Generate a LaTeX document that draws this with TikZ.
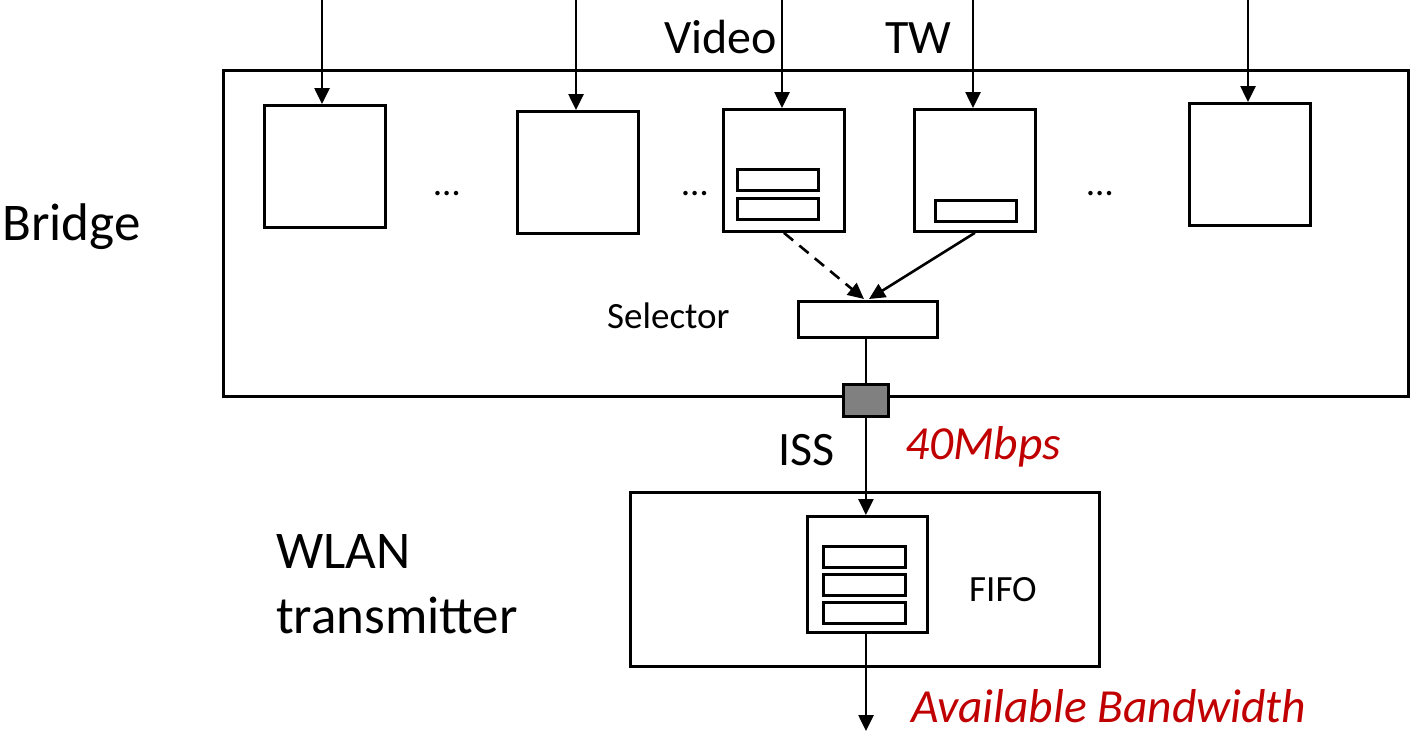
\documentclass[tikz,border=0pt]{standalone}
\usepackage{fontspec}
\setmainfont{Carlito}
\usetikzlibrary{arrows.meta}
\definecolor{accred}{HTML}{C00000}
\definecolor{portgray}{HTML}{808080}
\tikzset{
  box/.style={draw, line width=2.8pt, inner sep=0pt, anchor=north west},
  slot/.style={draw, line width=2.6pt, inner sep=0pt, anchor=north west, minimum width=81pt, minimum height=21pt},
  queue/.style={box, minimum width=121pt, minimum height=122pt},
  arr/.style={line width=2.6pt, -{Triangle[length=16pt,width=15pt]}},
  lab/.style={inner sep=0pt, anchor=base west},
  big/.style={lab, font=\fontsize{53}{64}\selectfont},
  mid/.style={lab, font=\fontsize{48}{58}\selectfont},
  small/.style={lab, font=\fontsize{37}{45}\selectfont},
  red/.style={text=accred, font=\fontsize{47.5}{57}\selectfont\itshape},
}
\begin{document}
\begin{tikzpicture}[x=1pt,y=-1pt]
\useasboundingbox (0,0) rectangle (1410,734);
% outer boxes
\node[box, minimum width=1185pt, minimum height=326pt] (bridge) at (222,69) {};
\node[box, minimum width=469pt, minimum height=174pt] (wlan) at (629,491) {};
% queues
\node[queue] (q1) at (263,104) {};
\node[queue] (q2) at (516,110) {};
\node[queue] (q3) at (722,108) {};
\node[queue] (q4) at (913,108) {};
\node[queue] (q5) at (1188,102) {};
\node[slot] (s31) at (736,168) {};
\node[slot] (s32) at (736,197) {};
\node[slot] (s41) at (934,199) {};
% inputs
\coordinate (i1) at (322,0);
\coordinate (i2) at (576,0);
\coordinate (i3) at (782,0);
\coordinate (i4) at (973,0);
\coordinate (i5) at (1248,0);
\draw[arr] (i1) -- (i1 |- q1.north);
\draw[arr] (i2) -- (i2 |- q2.north);
\draw[arr] (i3) -- (i3 |- q3.north);
\draw[arr] (i4) -- (i4 |- q4.north);
\draw[arr] (i5) -- (i5 |- q5.north);
% selector
\node[box, minimum width=139pt, minimum height=36pt] (sel) at (797,300) {};
\coordinate (selin) at (866,299);
\draw[arr, dashed, dash pattern=on 12pt off 8pt] (q3.south) -- ([xshift=-2pt]selin);
\draw[arr] (q4.south) -- ([xshift=3pt]selin);
% port
\node[box, fill=portgray, minimum width=45pt, minimum height=32pt] (port) at (842,383) {};
\draw[line width=2.6pt] (sel.south -| port.north) -- (port.north);
% fifo
\node[box, minimum width=120pt, minimum height=116pt] (fifo) at (806,515) {};
\node[slot, minimum width=82pt] (f1) at (822,545) {};
\node[slot, minimum width=82pt] (f2) at (822,573) {};
\node[slot, minimum width=82pt] (f3) at (822,601) {};
\draw[arr] (port.south) -- (port.south |- fifo.north);
\coordinate (out) at (866,731);
\draw[arr] (fifo.south -| out) -- (out);
% labels
\node[big] (lbridge) at (2,240) {Bridge};
\node[big] (lwlan) at (276,568) {WLAN};
\node[big] (ltx) at (276,633) {transmitter};
\node[mid] (lvideo) at (664,53) {Video};
\node[mid] (ltw) at (885,53) {TW};
\node[small] (lsel) at (607,328) {Selector};
\node[small] (lfifo) at (969,601) {FIFO};
\node[mid] (liss) at (778,465) {ISS};
\node[lab, red] (lrate) at (905,459) {40Mbps};
\node[lab, red] (lbw) at (911,722) {Available Bandwidth};
\node[small, anchor=base] (d1) at (447,195) {\ldots};
\node[small, anchor=base] (d2) at (695,195) {\ldots};
\node[small, anchor=base] (d3) at (1100,195) {\ldots};
\end{tikzpicture}
\end{document}
